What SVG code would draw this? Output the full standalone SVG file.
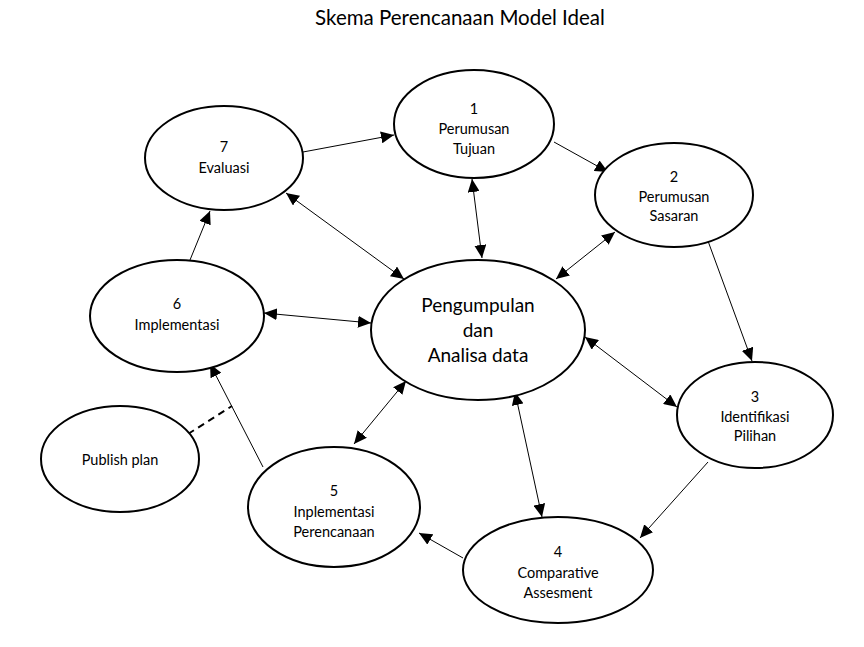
<svg xmlns="http://www.w3.org/2000/svg" width="864" height="647" viewBox="0 0 864 647">
<style>
.n{fill:#fff;stroke:#000;stroke-width:2}
.t{font-family:Lato,"Open Sans","Liberation Sans",sans-serif;font-size:14.5px;text-anchor:middle;fill:#000}
.big{font-size:19px}
.c{stroke:#000;stroke-width:1;fill:none}
.d{stroke:#000;stroke-width:2;stroke-dasharray:7,5;fill:none}
</style>
<defs>
<marker id="a" markerUnits="userSpaceOnUse" markerWidth="14" markerHeight="12" refX="13" refY="6" orient="auto-start-reverse"><path d="M0,0 L13,6 L0,12 Z" fill="#000"/></marker>
</defs>
<rect width="864" height="647" fill="#fff"/>
<text x="460" y="25" class="t" style="font-size:20.5px">Skema Perencanaan Model Ideal</text>
<g id="connectors">
<line class="c" x1="303" y1="152" x2="394" y2="135" marker-end="url(#a)"/>
<line class="c" x1="554" y1="142" x2="608" y2="172" marker-end="url(#a)"/>
<line class="c" x1="708" y1="241" x2="752" y2="361" marker-end="url(#a)"/>
<line class="c" x1="708" y1="462" x2="640" y2="538" marker-end="url(#a)"/>
<line class="c" x1="463" y1="558" x2="419" y2="533" marker-end="url(#a)"/>
<line class="c" x1="263" y1="467" x2="210" y2="364" marker-end="url(#a)"/>
<line class="c" x1="190" y1="260" x2="210" y2="211" marker-end="url(#a)"/>
<line class="d" x1="188" y1="434" x2="232" y2="406"/>
<line class="c" x1="482" y1="258" x2="472" y2="179" marker-start="url(#a)" marker-end="url(#a)"/>
<line class="c" x1="556" y1="279" x2="615" y2="232" marker-start="url(#a)" marker-end="url(#a)"/>
<line class="c" x1="585" y1="337" x2="677" y2="407" marker-start="url(#a)" marker-end="url(#a)"/>
<line class="c" x1="515" y1="392" x2="542" y2="517" marker-start="url(#a)" marker-end="url(#a)"/>
<line class="c" x1="406" y1="381" x2="354" y2="444" marker-start="url(#a)" marker-end="url(#a)"/>
<line class="c" x1="264" y1="313" x2="371" y2="323" marker-start="url(#a)" marker-end="url(#a)"/>
<line class="c" x1="286" y1="193" x2="404" y2="279" marker-start="url(#a)" marker-end="url(#a)"/>
</g>
<g id="center">
<ellipse class="n" cx="478" cy="330" rx="107" ry="70"/>
<text class="t big" x="478" y="312">Pengumpulan</text>
<text class="t big" x="478" y="337">dan</text>
<text class="t big" x="478" y="362">Analisa data</text>
</g>
<g id="node1">
<ellipse class="n" cx="474" cy="124" rx="80" ry="54"/>
<text class="t" x="474" y="114">1</text>
<text class="t" x="474" y="134">Perumusan</text>
<text class="t" x="474" y="154">Tujuan</text>
</g>
<g id="node2">
<ellipse class="n" cx="674" cy="195" rx="79" ry="52"/>
<text class="t" x="674" y="182">2</text>
<text class="t" x="674" y="202">Perumusan</text>
<text class="t" x="674" y="221">Sasaran</text>
</g>
<g id="node3">
<ellipse class="n" cx="755" cy="415" rx="78" ry="53"/>
<text class="t" x="755" y="402">3</text>
<text class="t" x="755" y="422">Identifikasi</text>
<text class="t" x="755" y="441">Pilihan</text>
</g>
<g id="node4">
<ellipse class="n" cx="558" cy="570" rx="95" ry="53"/>
<text class="t" x="558" y="557">4</text>
<text class="t" x="558" y="578">Comparative</text>
<text class="t" x="558" y="598">Assesment</text>
</g>
<g id="node5">
<ellipse class="n" cx="334" cy="507" rx="86" ry="60"/>
<text class="t" x="334" y="496">5</text>
<text class="t" x="334" y="517">Inplementasi</text>
<text class="t" x="334" y="537">Perencanaan</text>
</g>
<g id="node6">
<ellipse class="n" cx="177" cy="316" rx="87" ry="56"/>
<text class="t" x="177" y="309">6</text>
<text class="t" x="177" y="330">Implementasi</text>
</g>
<g id="node7">
<ellipse class="n" cx="224" cy="158" rx="79" ry="52"/>
<text class="t" x="224" y="152">7</text>
<text class="t" x="224" y="173">Evaluasi</text>
</g>
<g id="publish">
<ellipse class="n" cx="120" cy="459" rx="79" ry="53"/>
<text class="t" x="120" y="465">Publish plan</text>
</g>
</svg>
